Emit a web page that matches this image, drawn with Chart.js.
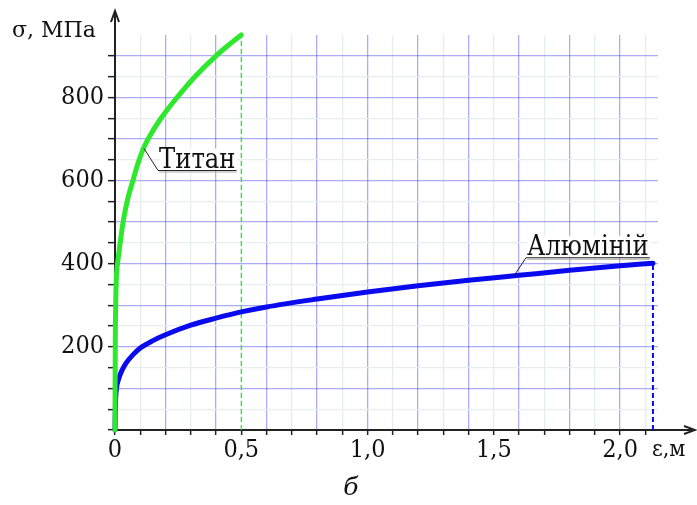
<!DOCTYPE html>
<html>
<head>
<meta charset="utf-8">
<script src="https://cdn.jsdelivr.net/npm/chart.js@4"></script>
<style>
  body { margin: 0; background: #fff; }
</style>
</head>
<body>
<canvas id="c" width="697" height="505"></canvas>
<script>
// Титан: деформація (ε) і напруження (σ, МПа)
const titanE = [0, 0.001, 0.003, 0.005, 0.008, 0.012, 0.02, 0.032, 0.05, 0.071, 0.09, 0.111, 0.131, 0.18, 0.246, 0.32, 0.4, 0.45, 0.5];
const titanS = [0, 200, 310, 361, 390, 410, 448, 500, 555, 600, 640, 675, 700, 748, 800, 852, 900, 926, 950];

// Алюміній
const aluE = [0, 0.002, 0.006, 0.013, 0.025, 0.045, 0.07, 0.1, 0.15, 0.2, 0.3, 0.4, 0.5, 0.6, 0.8, 1.0, 1.2, 1.4, 1.6, 1.8, 2.0, 2.13];
const aluS = [0, 65, 100, 120, 140, 162, 180, 197, 215, 229, 252, 269, 284, 296, 315, 332, 347, 360, 372, 384, 395, 401];

// Підписи осей
const xTickValues = [0, 0.5, 1.0, 1.5, 2.0];
const xTickLabels = ["0", "0,5", "1,0", "1,5", "2,0"];
const yTickLabels = [200, 400, 600, 800];

const titanLabel = "Титан";
const aluLabel = "Алюміній";

const toPoints = (xs, ys) => xs.map((x, i) => ({ x: x, y: ys[i] }));

const titanEnd = { x: titanE[titanE.length - 1], y: titanS[titanS.length - 1] };
const aluEnd = { x: aluE[aluE.length - 1], y: aluS[aluS.length - 1] };

const FONT = "'DejaVu Serif Condensed', 'DejaVu Serif'";
const BLUE_GRID = "rgba(70, 70, 235, 0.45)";
const GRAY_GRID = "#e8eeee";

function isMultiple(v, step) {
    return Math.abs(v / step - Math.round(v / step)) < 1e-6;
}

// Підписи, стрілки осей, виноски
const extras = {
    id: "extras",
    afterDraw(chart) {
        const ctx = chart.ctx;
        const xs = chart.scales.x;
        const ys = chart.scales.y;
        const area = chart.chartArea;
        ctx.save();
        ctx.strokeStyle = "#222";
        ctx.fillStyle = "#222";
        ctx.lineWidth = 2;

        // вісь σ зі стрілкою
        ctx.beginPath();
        ctx.moveTo(area.left, area.top);
        ctx.lineTo(area.left, 12);
        ctx.stroke();
        ctx.beginPath();
        ctx.moveTo(area.left - 4, 22);
        ctx.lineTo(area.left, 11);
        ctx.lineTo(area.left + 4, 22);
        ctx.stroke();

        // вісь ε зі стрілкою
        ctx.beginPath();
        ctx.moveTo(area.right, area.bottom);
        ctx.lineTo(694, area.bottom);
        ctx.stroke();
        ctx.beginPath();
        ctx.moveTo(684, area.bottom - 4);
        ctx.lineTo(695, area.bottom);
        ctx.lineTo(684, area.bottom + 4);
        ctx.stroke();

        ctx.fillStyle = "#111";
        ctx.textBaseline = "alphabetic";
        ctx.textAlign = "left";
        ctx.font = "22px 'DejaVu Serif'";
        ctx.fillText("σ, МПа", 12, 37);
        ctx.font = "23px " + FONT;
        ctx.fillText("ε,м", 652, 456);
        ctx.font = "italic 25px 'DejaVu Serif'";
        ctx.textAlign = "center";
        ctx.fillText("б", 351, 495);

        // виноска "Титан"
        drawCallout(ctx, xs.getPixelForValue(0.115), ys.getPixelForValue(677), 14, 22, titanLabel);
        // виноска "Алюміній"
        drawCallout(ctx, xs.getPixelForValue(1.58), ys.getPixelForValue(371), 12, -18, aluLabel);
        ctx.restore();
    }
};

function drawCallout(ctx, px, py, dx, dy, text) {
    ctx.font = "27px " + FONT;
    const w = ctx.measureText(text).width;
    const ux = px + dx;
    const uy = py + dy;
    ctx.fillStyle = "#fff";
    ctx.fillRect(ux + 1, uy - 22, w + 2, 21);
    ctx.lineWidth = 1;
    ctx.strokeStyle = "#222";
    ctx.beginPath();
    ctx.moveTo(px, py);
    ctx.lineTo(ux, uy);
    ctx.lineTo(ux + w + 2, uy);
    ctx.stroke();
    ctx.strokeStyle = "#aaa";
    ctx.beginPath();
    ctx.moveTo(ux + 1, uy + 1.5);
    ctx.lineTo(ux + w + 2, uy + 1.5);
    ctx.stroke();
    ctx.fillStyle = "#111";
    ctx.textAlign = "left";
    ctx.fillText(text, ux + 1, uy - 3);
}

new Chart("c", {
    type: "scatter",
    data: {
        datasets: [
            {
                label: titanLabel,
                data: toPoints(titanE, titanS),
                showLine: true,
                borderColor: "#2ee82e",
                borderWidth: 5,
                borderCapStyle: "round",
                pointRadius: 0,
                cubicInterpolationMode: "monotone",
                clip: false
            },
            {
                label: aluLabel,
                data: toPoints(aluE, aluS),
                showLine: true,
                borderColor: "#0a0aee",
                borderWidth: 5,
                borderCapStyle: "round",
                pointRadius: 0,
                cubicInterpolationMode: "monotone",
                clip: false
            },
            {
                data: [{ x: titanEnd.x, y: 0 }, titanEnd],
                showLine: true,
                borderColor: "#2ee82e",
                borderWidth: 1.3,
                borderDash: [5, 3],
                pointRadius: 0
            },
            {
                data: [{ x: aluEnd.x, y: 0 }, aluEnd],
                showLine: true,
                borderColor: "#0a0aee",
                borderWidth: 2,
                borderDash: [5, 3],
                pointRadius: 0
            }
        ]
    },
    options: {
        responsive: false,
        animation: false,
        layout: { padding: { left: 0, right: 39, top: 35, bottom: 0 } },
        plugins: { legend: { display: false }, tooltip: { enabled: false } },
        scales: {
            x: {
                type: "linear",
                min: 0,
                max: 2.15,
                afterBuildTicks(scale) {
                    const t = [];
                    for (let i = 0; i <= 21; i++) t.push({ value: +(i * 0.1).toFixed(1) });
                    scale.ticks = t;
                },
                afterFit(scale) { scale.height = 75; },
                border: { color: "#222", width: 2 },
                grid: {
                    color: (c) => isMultiple(c.tick.value, 0.2) ? BLUE_GRID : GRAY_GRID,
                    lineWidth: 1.3,
                    tickColor: "#222",
                    tickLength: 5,
                    tickWidth: 1.5
                },
                ticks: {
                    autoSkip: false,
                    maxRotation: 0,
                    padding: 0,
                    color: "#111",
                    font: { family: FONT, size: 25 },
                    callback: (v) => {
                        const i = xTickValues.findIndex((t) => Math.abs(t - v) < 1e-6);
                        return i >= 0 ? xTickLabels[i] : "";
                    }
                }
            },
            y: {
                type: "linear",
                min: 0,
                max: 950,
                afterBuildTicks(scale) {
                    const t = [];
                    for (let v = 0; v <= 900; v += 50) t.push({ value: v });
                    scale.ticks = t;
                },
                afterFit(scale) { scale.width = 115; },
                border: { color: "#222", width: 2 },
                grid: {
                    color: (c) => isMultiple(c.tick.value, 100) ? BLUE_GRID : GRAY_GRID,
                    lineWidth: 1.3,
                    tickColor: "#222",
                    tickLength: 7,
                    tickWidth: 1.5
                },
                ticks: {
                    autoSkip: false,
                    padding: 4,
                    color: "#111",
                    font: { family: FONT, size: 25 },
                    callback: (v) => yTickLabels.includes(v) ? String(v) : ""
                }
            }
        }
    },
    plugins: [extras]
});
</script>
</body>
</html>
